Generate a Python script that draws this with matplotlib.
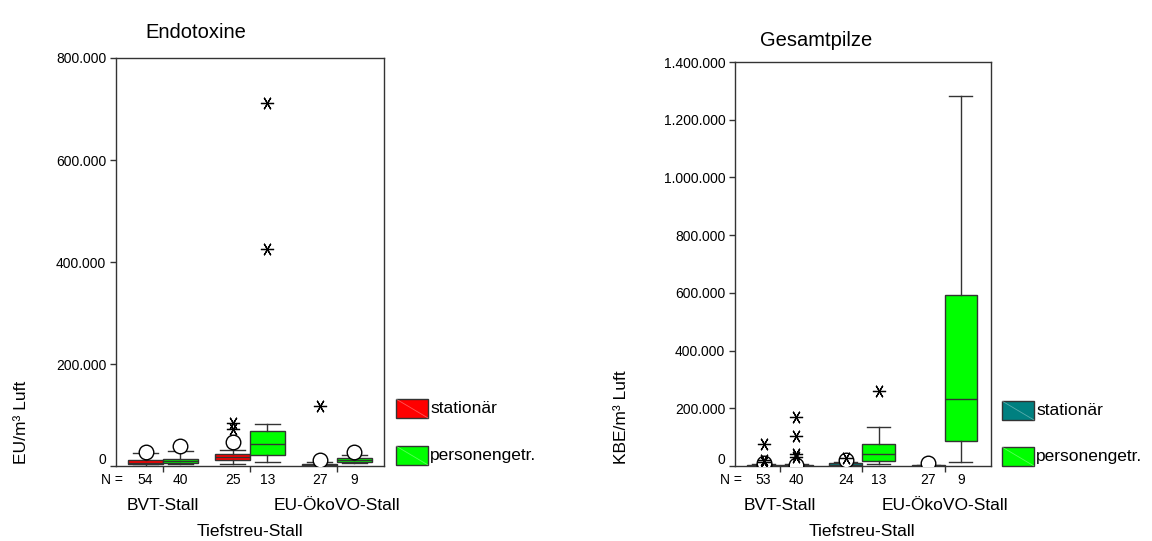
import matplotlib
matplotlib.use("Agg")
import matplotlib.pyplot as plt
from matplotlib.patches import Rectangle
from matplotlib.lines import Line2D
from matplotlib.ticker import FuncFormatter
import matplotlib.transforms as mtrans

plt.rcParams['font.family'] = ['Liberation Sans', 'DejaVu Sans']

# ---------------- data ----------------
groups = ["BVT-Stall", "Tiefstreu-Stall", "EU-ÖkoVO-Stall"]
series = ["stationär", "personengetr."]

# order: BVT stat, BVT pers, Tief stat, Tief pers, EU stat, EU pers
endo_n = [54, 40, 25, 13, 27, 9]
endo_whislo = [500, 3000, 3300, 7300, 0, 5300]
endo_q1 = [3300, 5300, 11800, 21600, 500, 7300]
endo_med = [6000, 9800, 17600, 42500, 1500, 11800]
endo_q3 = [11800, 13700, 23000, 68600, 3000, 16300]
endo_whishi = [25000, 30000, 31400, 81700, 8000, 21500]
endo_circles = [[27000], [40000], [46500], [], [11000], [27000]]
endo_stars = [[], [], [72000, 85000], [425000, 712000], [117000], []]

pilz_n = [53, 40, 24, 13, 27, 9]
pilz_whislo = [0, 0, 0, 5900, 0, 12800]
pilz_q1 = [500, 300, 1000, 18500, 300, 87000]
pilz_med = [1500, 1000, 4000, 40600, 1000, 233000]
pilz_q3 = [3500, 2500, 9000, 76500, 2500, 591000]
pilz_whishi = [7000, 6000, 15000, 136700, 4000, 1283000]
pilz_circles = [[5000, 9000], [5000], [22000], [], [10000], []]
pilz_stars = [[14000, 20000, 75000], [30000, 40000, 105000, 170000], [28000], [260000], [], []]

endo_yticks = [0, 200000, 400000, 600000, 800000]
pilz_yticks = [0, 200000, 400000, 600000, 800000, 1000000, 1200000, 1400000]

W, H = 1152, 541
fig = plt.figure(figsize=(W / 100, H / 100), dpi=100)

EDGE = '#333333'
STAR = (6, 2, 30)


def fmt(v, pos=None):
    return f"{int(round(v)):,}".replace(",", ".")


def px_rect(x0, y0, x1, y1):
    return [x0 / W, 1 - y1 / H, (x1 - x0) / W, (y1 - y0) / H]


def draw_panel(rect, xlim, ylim, yticks, n, wlo, q1, med, q3, whi, circ, stars,
               colors, title, title_xy, ylabel, ylabel_x, nlabel_x, legend_x, legend_y):
    ax = fig.add_axes(px_rect(*rect))
    stats = []
    positions = []
    for i in range(len(n)):
        g = i // 2 + 1
        off = -0.2 if i % 2 == 0 else 0.2
        positions.append(g + off)
        stats.append(dict(whislo=wlo[i], q1=q1[i], med=med[i], q3=q3[i],
                          whishi=whi[i], fliers=[]))
    bp = ax.bxp(stats, positions=positions, widths=0.4, capwidths=0.28,
                showfliers=False, patch_artist=True, manage_ticks=False,
                boxprops=dict(edgecolor=EDGE, linewidth=1.0),
                whiskerprops=dict(color=EDGE, linewidth=1.0),
                capprops=dict(color=EDGE, linewidth=1.0),
                medianprops=dict(color=EDGE, linewidth=1.0))
    for i, b in enumerate(bp['boxes']):
        b.set_facecolor(colors[i % 2])
    for i in range(len(n)):
        if circ[i]:
            ax.plot([positions[i]] * len(circ[i]), circ[i], linestyle='none',
                    marker='o', markersize=10.5, markerfacecolor='white',
                    markeredgecolor='black', markeredgewidth=1.0, zorder=5)
        if stars[i]:
            ax.plot([positions[i]] * len(stars[i]), stars[i], linestyle='none',
                    marker=STAR, markersize=9.5, color='black',
                    markeredgewidth=0.9, zorder=6)
    ax.set_xlim(*xlim)
    ax.set_ylim(*ylim)
    ax.set_yticks(yticks)
    ax.yaxis.set_major_formatter(FuncFormatter(fmt))
    ax.set_xticks([1, 2, 3])
    ax.set_xticklabels([])
    ax.tick_params(axis='both', direction='out', length=4, width=1.0,
                   color=EDGE, labelsize=10, pad=3)
    for s in ax.spines.values():
        s.set_color(EDGE)
        s.set_linewidth(1.0)
    # the zero label sits slightly above the baseline, as in the source
    lab0 = ax.yaxis.get_major_ticks()[0].label1
    lab0.set_transform(lab0.get_transform() +
                       mtrans.ScaledTranslation(0, 0.07, fig.dpi_scale_trans))

    tr = mtrans.blended_transform_factory(ax.transData, fig.transFigure)
    for i in range(len(n)):
        fig.text(positions[i], 1 - 480 / H, str(n[i]), transform=tr,
                 ha='center', va='center', fontsize=10)
    fig.text(nlabel_x / W, 1 - 480 / H, "N =", ha='right', va='center', fontsize=10)
    fig.text(1, 1 - 506 / H, groups[0], transform=tr, ha='center', va='center', fontsize=12.5)
    fig.text(2, 1 - 532 / H, groups[1], transform=tr, ha='center', va='center', fontsize=12.5)
    fig.text(3, 1 - 506 / H, groups[2], transform=tr, ha='center', va='center', fontsize=12.5)

    fig.text(title_xy[0] / W, 1 - title_xy[1] / H, title, ha='left', va='center', fontsize=14.5)
    fig.text(ylabel_x / W, 1 - 464 / H, ylabel, rotation=90, ha='center', va='bottom', fontsize=12.5)

    for k, (yc, col) in enumerate(zip(legend_y, colors)):
        x0, x1 = legend_x, legend_x + 32
        y0, y1 = yc - 9.5, yc + 9.5
        fig.add_artist(Rectangle((x0 / W, 1 - y1 / H), 32 / W, 19 / H,
                                 transform=fig.transFigure, facecolor=col,
                                 edgecolor=EDGE, linewidth=1.0))
        fig.add_artist(Line2D([x0 / W, x1 / W], [1 - y0 / H, 1 - y1 / H],
                              transform=fig.transFigure, color='white',
                              alpha=0.35, linewidth=0.6))
        fig.text((x1 + 2) / W, 1 - yc / H, series[k], ha='left', va='center', fontsize=12.5)
    return ax


draw_panel((116, 58, 384, 466), (0.46, 3.54), (0, 800000), endo_yticks,
           endo_n, endo_whislo, endo_q1, endo_med, endo_q3, endo_whishi,
           endo_circles, endo_stars, ['#ff0000', '#00ff00'],
           "Endotoxine", (145, 32), "EU/m³ Luft", 22, 123, 396, [408.5, 455.5])

draw_panel((735, 62, 991, 466), (0.453, 3.565), (0, 1400000), pilz_yticks,
           pilz_n, pilz_whislo, pilz_q1, pilz_med, pilz_q3, pilz_whishi,
           pilz_circles, pilz_stars, ['#008080', '#00ff00'],
           "Gesamtpilze", (760, 40), "KBE/m³ Luft", 622, 742, 1002, [410.5, 456.5])

fig.savefig("out.png", dpi=100)
